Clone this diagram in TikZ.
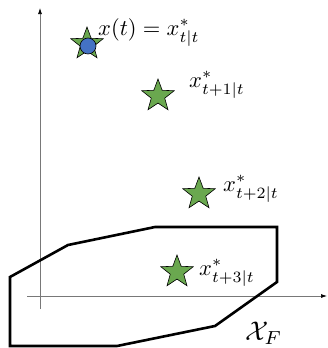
\documentclass[tikz,border=0pt]{standalone}
\usetikzlibrary{shapes.geometric,arrows.meta}
\definecolor{stargreen}{RGB}{106,168,79}
\definecolor{dotblue}{RGB}{68,114,196}
\definecolor{axisgray}{RGB}{120,120,120}
\newcommand{\bigtxt}[1]{\scalebox{2.25}{#1}}
\tikzset{
  starnode/.style={star, star points=5, star point ratio=2.4, fill=stargreen, draw=black, line width=0.6pt, inner sep=0pt, minimum size=34pt},
  axisline/.style={draw=axisgray, line width=0.7pt, -{Latex[length=6pt,width=4pt,black]}},
  lbl/.style={anchor=base west, inner sep=0pt},
  setline/.style={draw=black, line width=2.6pt, line join=miter}
}
\begin{document}
\begin{tikzpicture}[x=1pt,y=-1pt]
\useasboundingbox (0,0) rectangle (327,348);
% axes
\coordinate (ybot) at (40,309);
\coordinate (ytop) at (40,8);
\coordinate (xl) at (27,296);
\coordinate (xr) at (327,296);
\draw[axisline] (ybot) -- (ytop);
\draw[axisline] (xl) -- (xr);
% terminal set
\draw[setline] (155,227) -- (277,227) -- (277,282) -- (215,326) -- (117,346) -- (10,346) -- (10,277) -- (68,245) -- cycle;
% stars
\node[starnode] (s0) at (87,44) {};
\node[circle, fill=dotblue, draw=black, line width=0.6pt, minimum size=16pt, inner sep=0pt] (c0) at (88,46) {};
\node[starnode] (s1) at (158,96) {};
\node[starnode] (s2) at (199,194) {};
\node[starnode] (s3) at (177,272) {};
% labels
\node[lbl] (l0) at (98,35) {\bigtxt{$x(t) = x^*_{t|t}$}};
\node[lbl] (l1) at (189,87) {\bigtxt{$x^*_{t+1|t}$}};
\node[lbl] (l2) at (223,191) {\bigtxt{$x^*_{t+2|t}$}};
\node[lbl] (l3) at (199,275) {\bigtxt{$x^*_{t+3|t}$}};
\node[lbl] (lf) at (245,340) {\scalebox{2.7}{$\mathcal{X}_F$}};
\end{tikzpicture}
\end{document}
